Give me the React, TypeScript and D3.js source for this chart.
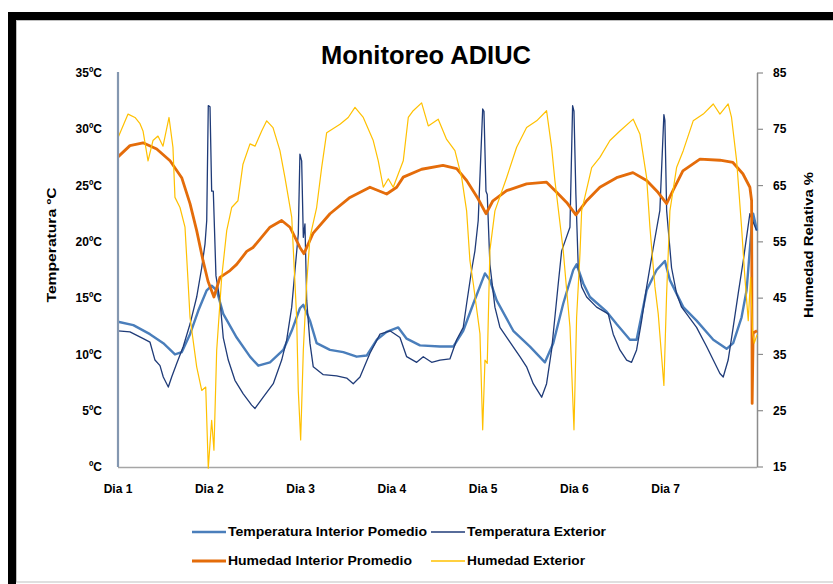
import * as d3 from 'd3';

// Series are [day, value] pairs
const dayLabels = ['Dia 1', 'Dia 2', 'Dia 3', 'Dia 4', 'Dia 5', 'Dia 6', 'Dia 7'];
const tempTicks = [0, 5, 10, 15, 20, 25, 30, 35];
const humTicks = [15, 25, 35, 45, 55, 65, 75, 85];

const tempInterior: [number, number][] = [
  [0, 12.9], [0.168, 12.6], [0.35, 11.8], [0.496, 11], [0.624, 10], [0.698, 10.2], [0.789, 11.8],
  [0.88, 13.9], [0.972, 15.7], [1.026, 16.1], [1.081, 15.7], [1.153, 13.6], [1.3, 11.5], [1.446, 9.8],
  [1.537, 9], [1.665, 9.3], [1.811, 10.4], [1.903, 12.1], [1.993, 14.1], [2.03, 14.4], [2.103, 13],
  [2.176, 11], [2.322, 10.4], [2.468, 10.2], [2.614, 9.8], [2.724, 9.9], [2.834, 11.3], [2.943, 12],
  [3.07, 12.4], [3.162, 11.4], [3.308, 10.8], [3.527, 10.7], [3.673, 10.7], [3.782, 12.1], [3.892, 14.5],
  [4.02, 17.2], [4.074, 16.6], [4.148, 14.8], [4.33, 12.1], [4.513, 10.7], [4.677, 9.3], [4.768, 11],
  [4.877, 14.5], [4.987, 17.5], [5.024, 18], [5.097, 16.3], [5.17, 15.1], [5.353, 13.8], [5.462, 12.7],
  [5.608, 11.3], [5.681, 11.3], [5.791, 15.7], [5.9, 17.5], [5.991, 18.3], [6.046, 16.6], [6.192, 14.2],
  [6.338, 13], [6.521, 11.3], [6.667, 10.5], [6.739, 11], [6.831, 13.3], [6.886, 15.7], [6.941, 21.3],
  [6.958, 22.5], [7.0, 21],
];

const tempExterior: [number, number][] = [
  [0, 12.1], [0.131, 12], [0.277, 11.4], [0.35, 11.1], [0.405, 9.5], [0.46, 9], [0.496, 8], [0.551, 7.1],
  [0.588, 8], [0.643, 9.2], [0.715, 10.7], [0.789, 12.7], [0.862, 15.1], [0.917, 17.7], [0.953, 19.8],
  [0.972, 21.9], [0.989, 32.1], [1.008, 32], [1.026, 24.5], [1.044, 24.5], [1.073, 17], [1.117, 14.8],
  [1.153, 11.5], [1.208, 9.5], [1.281, 7.7], [1.372, 6.5], [1.464, 5.5], [1.501, 5.2], [1.591, 6.2],
  [1.701, 7.4], [1.793, 9.5], [1.848, 11.3], [1.903, 14.2], [1.939, 17.5], [1.975, 20.7], [1.993, 27.8],
  [2.012, 27.2], [2.03, 20.4], [2.048, 21.6], [2.067, 14.8], [2.103, 11], [2.139, 8.9], [2.249, 8.2],
  [2.395, 8.1], [2.505, 7.9], [2.577, 7.4], [2.651, 8], [2.76, 10.1], [2.87, 11.8], [2.979, 12.1],
  [3.089, 11.5], [3.162, 9.8], [3.272, 9.3], [3.344, 9.8], [3.436, 9.3], [3.527, 9.5], [3.636, 9.6],
  [3.71, 11.3], [3.782, 12.4], [3.819, 14.5], [3.874, 17.5], [3.91, 19.2], [3.946, 21.9], [3.995, 31.8],
  [4.009, 31.6], [4.031, 24.5], [4.045, 24.2], [4.074, 18], [4.129, 14.2], [4.184, 12.4], [4.294, 11.1],
  [4.403, 9.8], [4.476, 8.9], [4.549, 7.4], [4.641, 6.2], [4.695, 7.4], [4.75, 10.4], [4.786, 13.3],
  [4.823, 16.3], [4.86, 19.2], [4.951, 21.3], [4.98, 32.1], [4.995, 31.6], [5.016, 24.2], [5.042, 17.7],
  [5.079, 16], [5.134, 15.1], [5.243, 14.2], [5.37, 13.6], [5.425, 11.8], [5.498, 10.4], [5.572, 9.5],
  [5.626, 9.3], [5.681, 10.4], [5.736, 13], [5.791, 16], [5.864, 19.5], [5.936, 22.8], [5.98, 31.3],
  [5.991, 30.8], [6.01, 22.8], [6.064, 17.7], [6.119, 15.4], [6.174, 14.2], [6.229, 13.6], [6.338, 12.4],
  [6.448, 10.7], [6.521, 9.5], [6.594, 8.3], [6.63, 8], [6.684, 9.5], [6.739, 12.4], [6.794, 15.4],
  [6.849, 18.3], [6.922, 22.5], [6.995, 21],
];

const humInterior: [number, number][] = [
  [0, 70.1], [0.131, 72.1], [0.274, 72.6], [0.424, 71.5], [0.57, 69.4], [0.698, 66.4], [0.789, 61.8],
  [0.862, 57], [0.931, 51.7], [0.986, 48], [1.051, 45.2], [1.117, 48.7], [1.227, 49.9], [1.3, 51],
  [1.41, 53.3], [1.479, 54], [1.665, 57.6], [1.793, 58.8], [1.884, 57.6], [1.993, 54], [2.037, 52.9],
  [2.136, 56.5], [2.322, 60], [2.541, 62.9], [2.76, 64.7], [2.943, 63.5], [3.053, 64.7], [3.125, 66.5],
  [3.326, 67.9], [3.56, 68.6], [3.71, 68], [3.819, 65.9], [3.943, 62.7], [4.031, 60], [4.107, 62.3],
  [4.257, 64.1], [4.476, 65.3], [4.695, 65.6], [4.805, 63.8], [4.915, 62], [5.016, 59.8], [5.134, 62.3],
  [5.279, 64.7], [5.462, 66.4], [5.641, 67.3], [5.791, 65.9], [5.915, 63.8], [6.01, 61.8], [6.079, 64.1],
  [6.188, 67.6], [6.375, 69.7], [6.594, 69.5], [6.736, 69.1], [6.845, 67.1], [6.922, 64.7], [6.941, 62.3],
  [6.947, 26.3], [6.958, 38.8], [7.0, 39.2],
];

const humExterior: [number, number][] = [
  [0, 73.5], [0.11, 77.7], [0.186, 77.1], [0.241, 76], [0.274, 74.7], [0.329, 69.4], [0.383, 73],
  [0.438, 73.8], [0.493, 72], [0.559, 77.1], [0.602, 71.8], [0.624, 62.9], [0.679, 61.1], [0.734, 57.6],
  [0.767, 48.1], [0.789, 41.6], [0.862, 32.8], [0.917, 28.6], [0.961, 29.2], [0.989, 14.8], [1.026, 23.3],
  [1.051, 18], [1.081, 35.7], [1.136, 48.7], [1.191, 57], [1.245, 61.1], [1.314, 62.3], [1.369, 68.8],
  [1.446, 72.4], [1.501, 72], [1.574, 74.7], [1.629, 76.5], [1.698, 75.3], [1.774, 71.2], [1.829, 66.4],
  [1.903, 59.4], [1.93, 50.5], [1.957, 41.6], [1.975, 28.6], [2.001, 19.8], [2.03, 35.7], [2.067, 47.6],
  [2.103, 55.8], [2.176, 61.1], [2.231, 68.2], [2.286, 74.4], [2.432, 75.9], [2.522, 77.1], [2.596, 78.9],
  [2.687, 77.1], [2.796, 73], [2.851, 69.4], [2.906, 64.7], [2.961, 66.2], [3.015, 64.7], [3.125, 69.4],
  [3.18, 77.1], [3.234, 78.3], [3.326, 79.7], [3.399, 75.6], [3.508, 76.8], [3.6, 73.2], [3.691, 71.2],
  [3.765, 66.4], [3.819, 60.5], [3.855, 51.7], [3.892, 47.6], [3.965, 38.7], [3.995, 21.6], [4.02, 34],
  [4.045, 33.4], [4.074, 53.5], [4.129, 60.5], [4.257, 66.4], [4.367, 71.8], [4.476, 75.3], [4.586, 76.5],
  [4.695, 78.3], [4.75, 71.8], [4.786, 65.9], [4.877, 53.5], [4.915, 46.4], [4.951, 39.9], [4.995, 21.6],
  [5.024, 41.6], [5.061, 53], [5.079, 60.5], [5.189, 68.2], [5.279, 70], [5.389, 73], [5.498, 74.7],
  [5.644, 76.8], [5.718, 74.1], [5.791, 66.4], [5.827, 57.6], [5.882, 47], [5.918, 42.2], [5.98, 29.5],
  [6.01, 45.8], [6.046, 60.5], [6.119, 68.2], [6.192, 71.2], [6.301, 76.5], [6.411, 77.7], [6.521, 79.5],
  [6.594, 77.7], [6.684, 79.5], [6.721, 77.1], [6.777, 69.4], [6.831, 57.6], [6.867, 48.7], [6.904, 41],
  [6.93, 48.7], [6.952, 38.8], [6.97, 37], [7.0, 38.5],
];

const W = 833;
const H = 584;
const plot = { left: 118, right: 757, top: 73, bottom: 467 };
const font = '"Liberation Sans", Arial, sans-serif';

export default function App() {
  const x = d3.scaleLinear().domain([0, 7]).range([plot.left, plot.right]);
  const yT = d3.scaleLinear().domain([0, 35]).range([plot.bottom, plot.top]);
  const yH = d3.scaleLinear().domain([15, 85]).range([plot.bottom, plot.top]);

  const tLine = d3.line<[number, number]>().x((d) => x(d[0])).y((d) => yT(d[1]));
  const hLine = d3.line<[number, number]>().x((d) => x(d[0])).y((d) => yH(d[1]));

  const series = [
    { name: 'Temperatura Interior Pomedio', d: tLine(tempInterior), color: '#4A7EBB', w: 2.4, lw: 2.6, tl: 199 },
    { name: 'Temperatura Exterior', d: tLine(tempExterior), color: '#1F3B78', w: 1.3, lw: 1.3, tl: 139 },
    { name: 'Humedad Interior Promedio', d: hLine(humInterior), color: '#E46C0A', w: 2.8, lw: 2.8, tl: 184 },
    { name: 'Humedad Exterior', d: hLine(humExterior), color: '#FFC000', w: 1.2, lw: 1.4, tl: 118 },
  ];

  const legendCols = [192, 431];
  const legendRows = [532, 561];

  return (
    <svg width={W} height={H} style={{ position: 'absolute', left: 0, top: 0, display: 'block', background: '#fff' }}>
      {/* frame */}
      <rect x={8} y={12} width={W - 8} height={8} fill="#000" />
      <rect x={8} y={12} width={8} height={H - 12} fill="#000" />
      <rect x={16.5} y={20.5} width={W} height={561.5} fill="#fff" stroke="#BFBFBF" strokeWidth={1} />

      <text x={426} y={64} textAnchor="middle" fontFamily={font} fontWeight="bold" fontSize={25}
        textLength={210} lengthAdjust="spacingAndGlyphs" fill="#000">Monitoreo ADIUC</text>

      {/* axes */}
      <line x1={plot.left} x2={plot.right} y1={plot.bottom + 0.5} y2={plot.bottom + 0.5} stroke="#A6A6A6" strokeWidth={1.5} />
      <line x1={plot.right + 0.5} x2={plot.right + 0.5} y1={plot.top} y2={plot.bottom} stroke="#8C8C8C" strokeWidth={1.5} />
      {humTicks.map((t) => (
        <g key={t}>
          <line x1={plot.right} x2={plot.right + 6} y1={yH(t)} y2={yH(t)} stroke="#8C8C8C" strokeWidth={1.2} />
          <text x={773} y={yH(t)} dy="0.35em" fontFamily={font} fontWeight="bold" fontSize={12} fill="#000">{t}</text>
        </g>
      ))}
      {tempTicks.map((t) => (
        <text key={t} x={102} y={yT(t)} dy="0.35em" textAnchor="end" fontFamily={font} fontWeight="bold" fontSize={12} fill="#000">
          {t === 0 ? 'ºC' : `${t}ºC`}
        </text>
      ))}
      {dayLabels.map((l, i) => (
        <text key={l} x={x(i)} y={493} textAnchor="middle" fontFamily={font} fontWeight="bold" fontSize={12} fill="#000">{l}</text>
      ))}

      <text transform="translate(56,245) rotate(-90)" textAnchor="middle" fontFamily={font} fontWeight="bold" fontSize={13}
        textLength={115} lengthAdjust="spacingAndGlyphs" fill="#000">Temperatura ºC</text>
      <text transform="translate(813,245) rotate(-90)" textAnchor="middle" fontFamily={font} fontWeight="bold" fontSize={13}
        textLength={146} lengthAdjust="spacingAndGlyphs" fill="#000">Humedad Relativa %</text>

      {/* series */}
      {series.map((s) => (
        <path key={s.name} d={s.d ?? ''} fill="none" stroke={s.color} strokeWidth={s.w} strokeLinejoin="round" />
      ))}
      <line x1={plot.left} x2={plot.left} y1={plot.top - 1} y2={plot.bottom} stroke="#8497B0" strokeWidth={2.2} />

      {/* legend */}
      {series.map((s, i) => {
        const lx = legendCols[i % 2];
        const ly = legendRows[Math.floor(i / 2)];
        return (
          <g key={s.name}>
            <line x1={lx} x2={lx + 34} y1={ly} y2={ly} stroke={s.color} strokeWidth={s.lw} />
            <text x={lx + 36} y={ly} dy="0.35em" fontFamily={font} fontWeight="bold" fontSize={12}
              textLength={s.tl} lengthAdjust="spacingAndGlyphs" fill="#000">{s.name}</text>
          </g>
        );
      })}
    </svg>
  );
}
